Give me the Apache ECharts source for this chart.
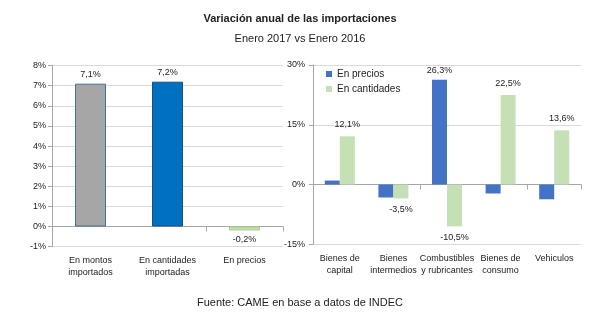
<!DOCTYPE html>
<html>
<head>
<meta charset="utf-8">
<script src="https://cdn.jsdelivr.net/npm/echarts@6/dist/echarts.min.js"></script>
<style>
html,body{margin:0;padding:0;background:#fff}
#chart{width:600px;height:321px}
</style>
</head>
<body>
<div id="chart"></div>
<script>

// left panel: totals
const leftCats = ["En montos\nimportados","En cantidades\nimportadas","En precios"]
const leftValues = [7.1,7.2,-0.2]
const leftColors = ["#A6A6A6","#0070C0","#C4DEB0"]
const leftBorders = ["#41719C","#1F4E79","#A9D08E"]

// right panel: by use
const rightCats = ["Bienes de\ncapital","Bienes\nintermedios","Combustibles\ny rubricantes","Bienes de\nconsumo","Vehiculos"]
const precios = [1.0,-3.25,26.3,-2.25,-3.7]
const cantidades = [12.1,-3.5,-10.5,22.5,13.6]
const preciosLabelIdx = [2]

const FONT = "Liberation Sans"
const fmt = v => v.toFixed(1).replace(".",",") + "%"

const chart = echarts.init(document.getElementById("chart"))

const txt = {fontFamily:FONT,fontSize:9,color:"#222"}

chart.setOption({
animation:false,
backgroundColor:"#fff",
title:[
{text:"Variación anual de las importaciones",left:"center",top:8,
 textStyle:{fontFamily:FONT,fontSize:11,fontWeight:"bold",color:"#222"}},
{text:"Enero 2017 vs Enero 2016",left:"center",top:28,
 textStyle:{fontFamily:FONT,fontSize:11,fontWeight:"normal",color:"#222"}},
{text:"Fuente: CAME en base a datos de INDEC",left:"center",top:292,
 textStyle:{fontFamily:FONT,fontSize:11,fontWeight:"normal",color:"#222"}}
],
legend:{
data:["En precios","En cantidades"],
orient:"vertical",
left:321,top:64,
itemWidth:6,itemHeight:6,itemGap:5,
icon:"rect",
textStyle:{fontFamily:FONT,fontSize:10,color:"#222"}
},
grid:[
{left:52,width:231,top:65.6,height:181,containLabel:false},
{left:313,width:268,top:65,height:179.3,containLabel:false}
],
xAxis:[
{gridIndex:0,type:"category",data:leftCats,
 axisLine:{onZero:true,lineStyle:{color:"#A6A6A6"}},
 axisTick:{show:true,lineStyle:{color:"#A6A6A6"}},
 axisLabel:{show:false}},
{gridIndex:0,type:"category",data:leftCats,position:"bottom",
 axisLine:{show:false,onZero:false},axisTick:{show:false},
 axisLabel:Object.assign({margin:8,lineHeight:12,interval:0},txt)},
{gridIndex:1,type:"category",data:rightCats,
 axisLine:{onZero:true,lineStyle:{color:"#A6A6A6"}},
 axisTick:{show:true,lineStyle:{color:"#A6A6A6"}},
 axisLabel:{show:false}},
{gridIndex:1,type:"category",data:rightCats,position:"bottom",
 axisLine:{show:false,onZero:false},axisTick:{show:false},
 axisLabel:Object.assign({margin:8,lineHeight:12,interval:0},txt)}
],
yAxis:[
{gridIndex:0,type:"value",min:-1,max:8,interval:1,
 axisLine:{show:true,lineStyle:{color:"#A6A6A6"}},
 axisTick:{show:true,length:4,lineStyle:{color:"#A6A6A6"}},
 splitLine:{lineStyle:{color:"#D9D9D9"}},
 axisLabel:Object.assign({formatter:"{value}%",margin:6},txt)},
{gridIndex:1,type:"value",min:-15,max:30,interval:15,
 axisLine:{show:true,lineStyle:{color:"#A6A6A6"}},
 axisTick:{show:true,length:4,lineStyle:{color:"#A6A6A6"}},
 splitLine:{lineStyle:{color:"#D9D9D9"}},
 axisLabel:Object.assign({formatter:"{value}%",margin:8},txt)}
],
series:[
{
type:"bar",xAxisIndex:0,yAxisIndex:0,barWidth:31,
data:leftValues.map((v,i) => ({
 value:v,
 itemStyle:{color:leftColors[i],borderColor:leftBorders[i],borderWidth:1},
 label:{show:true,position:v >= 0 ? "top" : "bottom",distance:5,formatter:fmt(v),
  fontFamily:FONT,fontSize:9,color:"#222"}
}))
},
{
name:"En precios",type:"bar",xAxisIndex:2,yAxisIndex:1,barWidth:15,barGap:"0%",
itemStyle:{color:"#4472C4"},
data:precios.map((v,i) => ({
 value:v,
 label:{show:preciosLabelIdx.includes(i),position:v >= 0 ? "top" : "bottom",distance:5,
  formatter:fmt(v),fontFamily:FONT,fontSize:9,color:"#222"}
}))
},
{
name:"En cantidades",type:"bar",xAxisIndex:2,yAxisIndex:1,barWidth:15,barGap:"0%",
itemStyle:{color:"#C5E0B4"},
data:cantidades.map(v => ({
 value:v,
 label:{show:true,position:v >= 0 ? "top" : "bottom",distance:7,
  formatter:fmt(v),fontFamily:FONT,fontSize:9,color:"#222"}
}))
}
]
})

</script>
</body>
</html>
